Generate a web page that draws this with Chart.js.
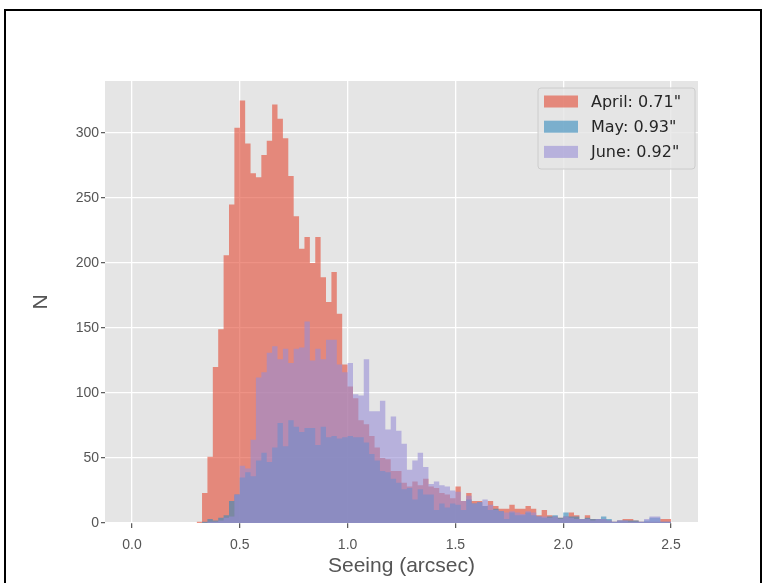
<!DOCTYPE html>
<html>
<head>
<meta charset="utf-8">
<script src="https://cdn.jsdelivr.net/npm/chart.js@4.4.1/dist/chart.umd.min.js"></script>
<style>
  html, body { margin: 0; padding: 0; background: #fff; }
  #wrap { position: relative; width: 765px; height: 583px; }
</style>
</head>
<body>
<div id="wrap"><canvas id="seeingChart"></canvas></div>
<script>
// histogram bins: 0.300 .. 2.500 arcsec, 0.025 wide
const binStart = 0.3;
const binWidth = 0.025;

const april = [
  1, 23, 51, 120, 149, 206, 245, 304, 325, 292,
  269, 266, 283, 294, 322, 311, 296, 267, 236, 211,
  220, 200, 220, 189, 170, 193, 161, 122, 105, 96,
  79, 76, 67, 58, 50, 49, 40, 40, 31, 28,
  32, 29, 34, 28, 27, 23, 22, 19, 28, 17,
  23, 17, 17, 13, 17, 13, 11, 11, 14, 11,
  11, 13, 11, 6, 10, 6, 5, 4, 5, 8,
  6, 3, 6, 3, 3, 3, 2, 1, 2, 3,
  3, 2, 1, 1, 1, 1, 3, 3
];
const may = [
  0, 1, 3, 2, 4, 6, 17, 22, 35, 39,
  36, 48, 54, 47, 58, 77, 59, 79, 74, 70,
  73, 73, 60, 74, 66, 67, 65, 66, 67, 66,
  66, 62, 53, 48, 40, 39, 34, 31, 26, 27,
  18, 26, 22, 22, 10, 15, 12, 15, 14, 10,
  18, 15, 16, 13, 10, 11, 9, 3, 8, 6,
  6, 8, 6, 5, 4, 5, 6, 4, 8, 5,
  5, 3, 4, 3, 3, 5, 3, 1, 2, 2,
  2, 2, 1, 2, 4, 4, 1, 1
];
const june = [
  0, 0, 1, 1, 2, 4, 5, 22, 44, 42,
  64, 112, 116, 131, 136, 126, 134, 123, 134, 135,
  155, 125, 134, 126, 141, 141, 122, 116, 123, 99,
  98, 126, 86, 86, 94, 72, 82, 71, 61, 41,
  48, 54, 43, 30, 32, 29, 28, 25, 24, 17,
  21, 15, 16, 18, 14, 10, 9, 8, 9, 8,
  7, 9, 8, 5, 5, 4, 5, 3, 5, 4,
  3, 3, 3, 2, 3, 3, 2, 1, 2, 2,
  1, 1, 1, 3, 5, 5, 1, 1
];

const seriesLabels = ['April: 0.71"', 'May: 0.93"', 'June: 0.92"'];
const seriesColors = ['rgba(226, 74, 51, 0.6)', 'rgba(52, 138, 189, 0.6)', 'rgba(152, 142, 213, 0.6)'];

const xTicks = [0, 0.5, 1.0, 1.5, 2.0, 2.5];
const yTicks = [0, 50, 100, 150, 200, 250, 300];

// step outline of one histogram: a point at every left bin edge, closed at the last right edge
function histPoints(counts) {
  const pts = counts.map((c, i) => ({ x: binStart + i * binWidth, y: c }));
  pts.push({ x: binStart + counts.length * binWidth, y: 0 });
  return pts;
}

const frameAndPanel = {
  id: 'frameAndPanel',
  beforeDraw(chart) {
    const { ctx, chartArea } = chart;
    ctx.save();
    ctx.fillStyle = '#E5E5E5';
    ctx.fillRect(chartArea.left, chartArea.top, chartArea.right - chartArea.left, chartArea.bottom - chartArea.top);
    ctx.strokeStyle = '#000';
    ctx.lineWidth = 2;
    ctx.strokeRect(5, 10, 756, 600);
    ctx.restore();
  }
};

// matplotlib-like legend box in the upper right corner of the panel
const boxLegend = {
  id: 'boxLegend',
  afterDraw(chart) {
    const { ctx, chartArea } = chart;
    const x0 = chartArea.right - 160;
    const y0 = chartArea.top + 7;
    const w = 157, h = 81;
    ctx.save();
    ctx.beginPath();
    ctx.roundRect(x0, y0, w, h, 3);
    ctx.fillStyle = 'rgba(229, 229, 229, 0.8)';
    ctx.fill();
    ctx.strokeStyle = '#CCCCCC';
    ctx.lineWidth = 1;
    ctx.stroke();
    ctx.font = '16px "DejaVu Sans"';
    ctx.textBaseline = 'middle';
    chart.data.datasets.forEach((ds, i) => {
      const cy = y0 + 13.5 + i * 25.2;
      ctx.fillStyle = ds.backgroundColor;
      ctx.fillRect(x0 + 6, cy - 6, 34, 12);
      ctx.fillStyle = '#262626';
      ctx.fillText(ds.label, x0 + 53, cy + 1);
    });
    ctx.restore();
  }
};

new Chart(document.getElementById('seeingChart'), {
  type: 'line',
  data: {
    datasets: [
      { label: seriesLabels[0], data: histPoints(april), backgroundColor: seriesColors[0], order: 3 },
      { label: seriesLabels[1], data: histPoints(may), backgroundColor: seriesColors[1], order: 2 },
      { label: seriesLabels[2], data: histPoints(june), backgroundColor: seriesColors[2], order: 1 }
    ].map(ds => Object.assign(ds, {
      stepped: 'before',
      fill: 'origin',
      borderColor: 'rgba(0,0,0,0)',
      borderWidth: 0,
      pointRadius: 0,
      tension: 0
    }))
  },
  options: {
    responsive: true,
    maintainAspectRatio: false,
    animation: false,
    layout: { padding: { left: 0, top: 81, right: 67, bottom: 0 } },
    plugins: {
      legend: { display: false },
      tooltip: { enabled: false }
    },
    scales: {
      x: {
        type: 'linear',
        min: -0.125,
        max: 2.625,
        afterBuildTicks: s => { s.ticks = xTicks.map(v => ({ value: v })); },
        afterFit: s => { s.height = 60; },
        border: { display: false },
        grid: { color: '#FFFFFF', lineWidth: 1.3, tickColor: '#555555', tickLength: 5, tickWidth: 1.2 },
        ticks: { color: '#555555', font: { size: 14 }, padding: 9, maxRotation: 0, callback: v => v.toFixed(1) },
        title: { display: true, text: 'Seeing (arcsec)', color: '#555555', font: { size: 21 }, padding: { top: 0, bottom: 4 } }
      },
      y: {
        min: 0,
        max: 340,
        afterBuildTicks: s => { s.ticks = yTicks.map(v => ({ value: v })); },
        afterFit: s => { s.width = 105; },
        border: { display: false },
        grid: { color: '#FFFFFF', lineWidth: 1.3, tickColor: '#555555', tickLength: 4, tickWidth: 1.2 },
        ticks: { color: '#555555', font: { size: 14 }, padding: 2 },
        title: { display: true, text: 'N', color: '#555555', font: { size: 21 }, padding: { top: 29, bottom: 0 } }
      }
    }
  },
  plugins: [frameAndPanel, boxLegend]
});
Chart.defaults.font.family = '"DejaVu Sans"';
</script>
</body>
</html>
